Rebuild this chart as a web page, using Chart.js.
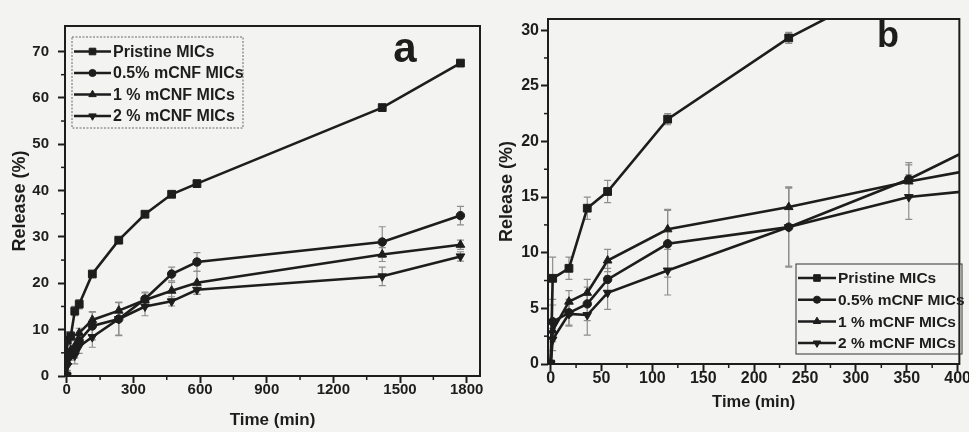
<!DOCTYPE html>
<html><head><meta charset="utf-8">
<script src="https://cdn.jsdelivr.net/npm/chart.js@4.4.1/dist/chart.umd.min.js"></script>
<style>
html,body{margin:0;padding:0;background:#f3f3f1;}
#wrap{position:relative;width:969px;height:432px;overflow:hidden;background:#f3f3f1;}
#ca{position:absolute;left:0;top:0;}
#cb{position:absolute;left:490px;top:0;}
</style></head><body>
<div id="wrap"><canvas id="ca" width="490" height="432"></canvas><canvas id="cb" width="479" height="432"></canvas></div>
<script>
// ---- data ----
const times      = [0, 2, 18, 36, 56, 115, 234, 352, 472, 586, 1420, 1772];
const pristine   = [0, 7.7, 8.6, 14.0, 15.5, 22.0, 29.3, 34.9, 39.2, 41.5, 57.9, 67.5];
const mcnf05     = [0, 3.8, 4.6, 5.4, 7.6, 10.8, 12.3, 16.6, 22.0, 24.6, 28.9, 34.6];
const mcnf1      = [0, 3.0, 5.6, 6.4, 9.3, 12.1, 14.1, 16.4, 18.4, 20.1, 26.2, 28.3];
const mcnf2      = [0, 2.2, 4.5, 4.4, 6.4, 8.4, 12.3, 15.0, 16.1, 18.6, 21.5, 25.8];
const errPristine= [0, 1.9, 1.0, 1.0, 1.0, 0.5, 0.5, 0.6, 0.6, 0.6, 0.6, 0.6];
const err05      = [0, 1.5, 1.2, 1.5, 1.0, 3.0, 3.6, 1.5, 1.5, 2.0, 3.3, 2.0];
const err1       = [0, 1.0, 1.0, 1.2, 1.0, 1.8, 1.8, 1.5, 1.8, 2.5, 1.5, 1.0];
const err2       = [0, 1.0, 1.0, 1.8, 1.5, 2.2, 3.5, 2.0, 1.0, 1.0, 2.0, 1.0];
const seriesNames = ['Pristine MICs', '0.5% mCNF MICs', '1 % mCNF MICs', '2 % mCNF MICs'];
const xTicksA = [0, 300, 600, 900, 1200, 1500, 1800];
const yTicksA = [0, 10, 20, 30, 40, 50, 60, 70];
const xTicksB = [0, 50, 100, 150, 200, 250, 300, 350, 400];
const yTicksB = [0, 5, 10, 15, 20, 25, 30];
const xTitle = 'Time (min)';
const yTitle = 'Release (%)';
const panelA = 'a', panelB = 'b';

const seriesValues = [pristine, mcnf05, mcnf1, mcnf2];
const seriesErrors = [errPristine, err05, err1, err2];
const markerStyles = ['rect', 'circle', 'triangle', 'triangle'];
const markerRot = [0, 0, 0, 180];
const markerRadius = [5.5, 4.2, 5, 5];
const INK = '#1d1d1d';
const FONT = "'Liberation Sans', Arial, Helvetica, sans-serif";

function makeDatasets() {
  return seriesNames.map((n, i) => ({
    label: n,
    data: times.map((t, j) => ({ x: t, y: seriesValues[i][j] })),
    errors: seriesErrors[i],
    borderColor: INK, backgroundColor: INK,
    borderWidth: 2.6,
    pointStyle: markerStyles[i], pointRotation: markerRot[i],
    pointRadius: markerRadius[i], pointBorderWidth: 1,
    pointBorderColor: INK, pointBackgroundColor: INK,
    tension: 0, fill: false
  }));
}

function minorTicks(list) {
  const out = [];
  for (let k = 0; k < list.length - 1; k++) out.push((list[k] + list[k + 1]) / 2);
  return out;
}

const deco = {
  id: 'deco',
  beforeDatasetsDraw(chart, args, o) {
    const { ctx, chartArea: a, scales: { x, y } } = chart;
    ctx.save();
    ctx.beginPath(); ctx.rect(a.left, a.top, a.right - a.left, a.bottom - a.top); ctx.clip();
    ctx.strokeStyle = '#8e8e8e'; ctx.lineWidth = 1.2;
    chart.data.datasets.forEach(ds => {
      ds.data.forEach((p, j) => {
        const e = ds.errors[j]; if (!e) return;
        const px = x.getPixelForValue(p.x), y1 = y.getPixelForValue(p.y - e), y2 = y.getPixelForValue(p.y + e);
        ctx.beginPath();
        ctx.moveTo(px, y1); ctx.lineTo(px, y2);
        ctx.moveTo(px - 3.5, y1); ctx.lineTo(px + 3.5, y1);
        ctx.moveTo(px - 3.5, y2); ctx.lineTo(px + 3.5, y2);
        ctx.stroke();
      });
    });
    ctx.restore();
  },
  afterDraw(chart, args, o) {
    const { ctx, chartArea: a, scales: { x, y } } = chart;
    ctx.save();
    // frame
    ctx.strokeStyle = INK; ctx.lineWidth = 2;
    ctx.strokeRect(a.left, a.top, a.right - a.left, a.bottom - a.top);
    // minor ticks
    ctx.lineWidth = 1.5;
    minorTicks(o.xTicks).forEach(v => {
      const px = x.getPixelForValue(v);
      ctx.beginPath(); ctx.moveTo(px, a.bottom); ctx.lineTo(px, a.bottom + 4); ctx.stroke();
    });
    minorTicks(o.yTicks).forEach(v => {
      const py = y.getPixelForValue(v);
      ctx.beginPath(); ctx.moveTo(a.left, py); ctx.lineTo(a.left - 4, py); ctx.stroke();
    });
    // legend
    const L = o.legend;
    ctx.lineWidth = 1;
    ctx.strokeStyle = L.boxColor;
    ctx.setLineDash(L.dash);
    ctx.strokeRect(L.x, L.y, L.w, L.h);
    ctx.setLineDash([]);
    ctx.font = 'bold ' + L.font + 'px ' + FONT;
    ctx.textBaseline = 'middle'; ctx.textAlign = 'left';
    chart.data.datasets.forEach((ds, i) => {
      const cy = L.y + L.first + i * L.row;
      ctx.strokeStyle = INK; ctx.fillStyle = INK; ctx.lineWidth = 2.5;
      ctx.beginPath(); ctx.moveTo(L.x + 2, cy); ctx.lineTo(L.x + 2 + L.len, cy); ctx.stroke();
      ctx.lineWidth = 1;
      Chart.helpers.drawPoint(ctx, { pointStyle: ds.pointStyle, rotation: ds.pointRotation, radius: ds.pointRadius * 0.85, borderWidth: 1 }, L.x + 2 + L.len / 2, cy);
      ctx.fillStyle = INK;
      ctx.fillText(ds.label, L.x + 4 + L.len, cy + 1);
    });
    // panel letter
    ctx.fillStyle = INK;
    ctx.font = 'bold ' + o.letter.size + 'px ' + FONT;
    ctx.textAlign = 'center'; ctx.textBaseline = 'alphabetic';
    ctx.fillText(o.letter.text, o.letter.x, o.letter.y);
    ctx.restore();
  }
};

function makeChart(id, cfg) {
  return new Chart(document.getElementById(id), {
    type: 'line',
    data: { datasets: makeDatasets() },
    plugins: [deco],
    options: {
      responsive: false, animation: false, devicePixelRatio: 1,
      layout: { padding: cfg.padding },
      plugins: {
        legend: { display: false }, tooltip: { enabled: false },
        deco: { legend: cfg.legend, letter: cfg.letter, xTicks: cfg.xTicks, yTicks: cfg.yTicks }
      },
      scales: {
        x: {
          type: 'linear', min: cfg.xMin, max: cfg.xMax,
          afterFit: s => { s.height = cfg.xAxisH; },
          afterBuildTicks: s => { s.ticks = cfg.xTicks.map(v => ({ value: v })); },
          border: { display: false },
          grid: { drawOnChartArea: false, drawTicks: true, tickLength: 7, tickWidth: 2, tickColor: INK },
          ticks: { color: INK, padding: cfg.xTickPad, maxRotation: 0, autoSkip: false,
                   callback: v => String(v),
                   font: { family: FONT, size: cfg.tickFont, weight: 'bold' } },
          title: { display: true, text: xTitle, color: INK, padding: { top: 0, bottom: 0 },
                   font: { family: FONT, size: cfg.xTitleFont, weight: 'bold' } }
        },
        y: {
          type: 'linear', min: cfg.yMin, max: cfg.yMax,
          afterFit: s => { s.width = cfg.yAxisW; },
          afterBuildTicks: s => { s.ticks = cfg.yTicks.map(v => ({ value: v })); },
          border: { display: false },
          grid: { drawOnChartArea: false, drawTicks: true, tickLength: 7, tickWidth: 2, tickColor: INK },
          ticks: { color: INK, padding: cfg.yTickPad, autoSkip: false,
                   callback: v => String(v),
                   font: { family: FONT, size: cfg.tickFont, weight: 'bold' } },
          title: { display: true, text: yTitle, color: INK, padding: { top: cfg.yTitlePad, bottom: 0 },
                   font: { family: FONT, size: 18, weight: 'bold' } }
        }
      }
    }
  });
}

makeChart('ca', {
  padding: { left: 0, right: 10, top: 26, bottom: 1 },
  xMin: -8, xMax: 1860, yMin: 0, yMax: 75.5, xTicks: xTicksA, yTicks: yTicksA,
  xAxisH: 55, yAxisW: 65, xTickPad: -2, yTickPad: 9, tickFont: 15, xTitleFont: 17, yTitlePad: 9,
  legend: { x: 72, y: 37, w: 171, h: 91, first: 14.5, row: 21.5, len: 37, font: 16, boxColor: '#666', dash: [2, 1.5] },
  letter: { text: panelA, x: 405, y: 62, size: 42 }
});

makeChart('cb', {
  padding: { left: 0, right: 7, top: 19, bottom: 20 },
  xMin: -2.6, xMax: 401.7, yMin: 0, yMax: 31, xTicks: xTicksB, yTicks: yTicksB,
  xAxisH: 48, yAxisW: 58, xTickPad: -2, yTickPad: 2, tickFont: 16, xTitleFont: 16.5, yTitlePad: 6,
  legend: { x: 306, y: 264, w: 166, h: 90, first: 14, row: 21.7, len: 38, font: 15.5, boxColor: '#333', dash: [] },
  letter: { text: panelB, x: 398, y: 47, size: 36 }
});
</script>
</body></html>
